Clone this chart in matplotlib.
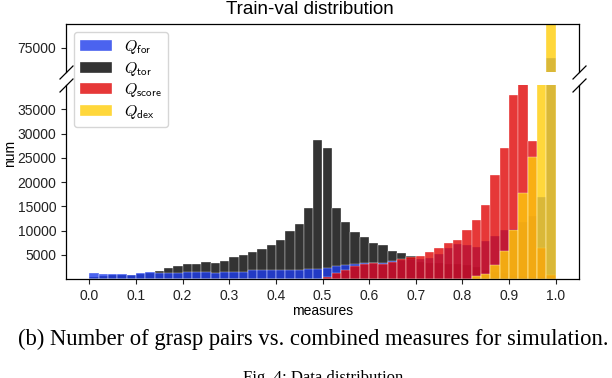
import numpy as np
import matplotlib
matplotlib.use('Agg')
import matplotlib.pyplot as plt

plt.rcParams['font.family'] = ['Liberation Sans', 'DejaVu Sans']
plt.rcParams['mathtext.fontset'] = 'cm'

# 50 bins of width 0.02 over [0, 1]
bin_edges = np.linspace(0, 1, 51)

q_tor = [480, 690, 820, 900, 890, 1100, 1300, 1640, 2190, 2740,
         3010, 3080, 3420, 3350, 3800, 4440, 4850, 5470, 6090, 6950,
         8140, 9850, 11250, 14670, 28600, 27010, 14700, 11830, 9780, 8760,
         7520, 6910, 5810, 5260, 4790, 3500, 3300, 3200, 3100, 3000,
         2870, 2530, 1850, 1500, 1200, 900, 700, 500, 400, 300]
q_for = [1160, 1030, 1030, 1000, 900, 1160, 1370, 1300, 1300, 1340,
         1370, 1370, 1370, 1300, 1400, 1370, 1370, 1850, 1850, 1900,
         1920, 1850, 1900, 2000, 2020, 2190, 2670, 2870, 3080, 3210,
         3350, 3250, 3650, 3950, 4100, 4100, 4400, 5130, 6490, 7180,
         7000, 6630, 7800, 8890, 10050, 10400, 11780, 12920, 16870, 73000]
q_score = [0] * 25 + [340, 1160, 1850, 2730, 3080,
                      3210, 3050, 3550, 4100, 4580, 4720, 5470, 6290, 7320, 8140,
                      10190, 12240, 15310, 21400, 26930, 37870, 42000, 28430, 6390, 900]
q_dex = [0] * 41 + [680, 1020, 2870, 5810, 10190, 17780, 25230, 52000, 90000]

series = [('tor', q_tor, '#000000'),
          ('for', q_for, '#1e3ceb'),
          ('score', q_score, '#e00606'),
          ('dex', q_dex, '#ffce0a')]
legend_order = ['for', 'tor', 'score', 'dex']

fig = plt.figure(figsize=(6.12, 3.78), dpi=100)
ax_top = fig.add_axes([66/612, 1-72/378, 513/612, 48/378])
ax_bot = fig.add_axes([66/612, 1-279/378, 513/612, 194/378])
ax_top.set_zorder(3)

centers = (bin_edges[:-1] + bin_edges[1:]) / 2
handles = {}
for ax in (ax_top, ax_bot):
    for name, vals, color in series:
        _, _, patches = ax.hist(centers, bins=bin_edges, weights=vals, color=color,
                                alpha=0.8, ec='white', lw=0.3)
        handles[name] = patches[0]
    ax.set_xlim(-0.05, 1.05)
    for sp in ax.spines.values():
        sp.set_linewidth(0.9)
    ax.tick_params(labelsize=10, colors='#222222', length=3.5, width=0.8)

ax_top.set_ylim(70000, 80000)
ax_bot.set_ylim(0, 40000)
ax_top.set_yticks([75000])
ax_bot.set_yticks(np.arange(5000, 40000, 5000))
ax_bot.set_xticks(np.round(np.arange(0, 1.01, 0.1), 1))
ax_bot.set_xticklabels([f'{t:.1f}' for t in np.arange(0, 1.01, 0.1)])
ax_top.tick_params(bottom=False, labelbottom=False)
ax_top.spines['bottom'].set_visible(False)
ax_bot.spines['top'].set_visible(False)

# break marks
kw = dict(marker=[(-1, -1), (1, 1)], markersize=10, linestyle='none',
          color='k', mec='k', mew=0.9, clip_on=False)
ax_top.plot([0, 1], [0, 0], transform=ax_top.transAxes, **kw)
ax_bot.plot([0, 1], [1, 1], transform=ax_bot.transAxes, **kw)

fig.text(310/612, 1-10/378, 'Train-val distribution', fontsize=13.5, ha='center', va='center')
ax_bot.set_xlabel('measures', fontsize=10, labelpad=1)
fig.text(10/612, 1-153/378, 'num', rotation=90, fontsize=10, ha='center', va='center')

labels = {'for': r'$Q_{\mathsf{for}}$', 'tor': r'$Q_{\mathsf{tor}}$',
          'score': r'$Q_{\mathsf{score}}$', 'dex': r'$Q_{\mathsf{dex}}$'}
ax_top.legend([handles[k] for k in legend_order], [labels[k] for k in legend_order],
              loc='upper left', fontsize=11.5, labelspacing=0.22, handletextpad=0.7)

fig.text(313/612, 1-339/378, '(b) Number of grasp pairs vs. combined measures for simulation.',
         family='Liberation Serif', fontsize=16.3, ha='center', va='center')
fig.text(323/612, 1-378/378, 'Fig. 4: Data distribution',
         family='Liberation Serif', fontsize=12, ha='center', va='center')

fig.savefig('out.png', dpi=100)
